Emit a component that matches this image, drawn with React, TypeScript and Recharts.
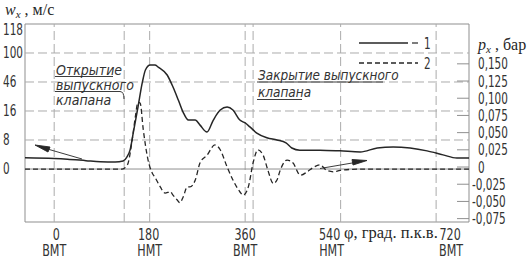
import React from 'react';
import { ComposedChart, Line, XAxis, YAxis, ReferenceLine, ReferenceArea } from 'recharts';

// ---- data ----
const W_TICKS = [0, 8, 16, 46, 100, 118];
const P_TICKS = [0.15, 0.125, 0.1, 0.075, 0.05, 0.025, 0, -0.025, -0.05, -0.075];
const X_TICKS = [0, 180, 360, 540, 720];
const X_TICK_NAMES = ['ВМТ', 'НМТ', 'ВМТ', 'НМТ', 'ВМТ'];
const VALVE_EVENTS = [132, 375];

const SOLID_DEG = [-55, 0, 25, 60, 87, 115, 130, 137, 143, 149, 158, 166, 172, 181, 190, 196, 213, 224, 234, 243, 253, 266, 275, 288, 300, 313, 326, 337, 350, 360, 369, 382, 401, 420, 437, 448, 463, 501, 539, 577, 609, 639, 671, 703, 733, 759, 782];
const SOLID_W = [3.1, 2.9, 2.7, 2.3, 2.0, 1.9, 2.2, 3.3, 5.2, 9.9, 20.1, 45, 68.4, 77.7, 77.7, 73.9, 59, 40.8, 27.4, 15.7, 13.5, 13.5, 12.1, 10.2, 13.5, 17.0, 20.1, 17.0, 13.5, 12.7, 11.6, 9.9, 8.6, 8.0, 7.2, 5.8, 5.2, 5.2, 5.0, 4.7, 5.8, 6.1, 5.8, 5.0, 3.9, 3.0, 3.0];

const DASH_DEG = [-55, 0, 87, 128, 138, 147, 153, 158, 162, 168, 177, 185, 190, 200, 209, 219, 224, 232, 237, 243, 251, 256, 266, 275, 288, 303, 313, 326, 337, 350, 356, 366, 375, 384, 394, 403, 413, 420, 426, 439, 450, 464, 477, 488, 501, 514, 526, 539, 580, 650, 720, 782];
const DASH_P = [0, 0, 0, 0, 0.006, 0.042, 0.076, 0.097, 0.096, 0.057, 0.013, -0.006, -0.012, -0.026, -0.035, -0.033, -0.038, -0.045, -0.049, -0.041, -0.026, -0.026, -0.016, 0.009, 0.020, 0.035, 0.028, 0.003, -0.016, -0.033, -0.038, -0.026, 0.009, 0.028, 0.020, -0.002, -0.021, -0.016, -0.002, 0.013, 0.009, -0.009, -0.004, 0.002, 0.006, -0.002, -0.004, -0.002, 0, 0, 0, 0];

// ---- left axis: non-uniform w scale drawn on an index axis ----
const W_AXIS_POS = [0, 1, 2, 3, 4, 4.8];
function wToAxis(w: number): number {
  for (let i = 1; i < W_TICKS.length; i++) {
    if (w <= W_TICKS[i]) {
      const t = (w - W_TICKS[i - 1]) / (W_TICKS[i] - W_TICKS[i - 1]);
      return W_AXIS_POS[i - 1] + t * (W_AXIS_POS[i] - W_AXIS_POS[i - 1]);
    }
  }
  return W_AXIS_POS[W_AXIS_POS.length - 1];
}

const solidData = SOLID_DEG.map((d, i) => ({ deg: d, w: wToAxis(SOLID_W[i]) }));
const dashData = DASH_DEG.map((d, i) => ({ deg: d, p: DASH_P[i] }));

const X_DOMAIN: [number, number] = [-55, 782];
const W_DOMAIN: [number, number] = [-1.828, 5.0];
const P_DOMAIN: [number, number] = [-0.077, 0.2108];

const GOST = "'Liberation Sans Narrow', 'DejaVu Sans Condensed', 'Open Sans', sans-serif";
const SERIF = "'Liberation Serif', 'DejaVu Serif', serif";
const INK = '#262626';
const TXT = '#333';
const GRID = '#ababab';
const FRAME = '#8f8f8f';

const Narrow = ({ x, y, anchor = 'start', size = 15.5, sq = 0.75, italic = false, children }: any) => (
  <text
    transform={`translate(${x},${y}) scale(${sq},1)`}
    textAnchor={anchor}
    fontFamily={GOST}
    fontSize={size}
    fontWeight={300}
    fontStyle={italic ? 'italic' : 'normal'}
    fill={TXT}
  >
    {children}
  </text>
);

const LeftTick = (props: any) => {
  const { y, payload } = props;
  const idx = W_AXIS_POS.indexOf(payload.value);
  return <Narrow x={3} y={y + 5.5}>{W_TICKS[idx]}</Narrow>;
};

const RightTick = (props: any) => {
  const { x, y, payload } = props;
  const v = payload.value as number;
  const label = (v < 0 ? '-' : '') + (v === 0 ? '0' : Math.abs(v).toFixed(3).replace('.', ','));
  return (
    <g>
      <line x1={x - 12} x2={x} y1={y - 2} y2={y - 2} stroke={FRAME} strokeWidth={1} />
      <Narrow x={v < 0 ? x + 3 : x + 9} y={y + 3.5}>{label}</Narrow>
    </g>
  );
};

const NUM_SHIFT = [2, -1, 0, -11, 14];
const NAME_SHIFT = [0, 0, 0, -9, 15];
const XTick = (props: any) => {
  const { x, y, payload } = props;
  const i = X_TICKS.indexOf(payload.value);
  return (
    <g>
      <Narrow x={x + NUM_SHIFT[i]} y={y + 17.5} anchor="middle" size={15.5} sq={0.8}>{payload.value}</Narrow>
      <Narrow x={x + NAME_SHIFT[i]} y={y + 34} anchor="middle" size={15.5} sq={0.8}>{X_TICK_NAMES[i]}</Narrow>
    </g>
  );
};

const Overlay = () => (
  <svg width={530} height={260} style={{ position: 'absolute', left: 0, top: 0, pointerEvents: 'none' }}>
    {/* axis titles */}
    <text x={5} y={15} fontFamily={SERIF} fontSize={16} fill={INK}>
      <tspan fontStyle="italic">w</tspan>
      <tspan fontStyle="italic" fontSize={11} dy={3}>x</tspan>
      <tspan dy={-3}> , м/с</tspan>
    </text>
    <text x={478} y={50} fontFamily={SERIF} fontSize={16} fill={INK}>
      <tspan fontStyle="italic">p</tspan>
      <tspan fontStyle="italic" fontSize={11} dy={3}>x</tspan>
      <tspan dy={-3}> , бар</tspan>
    </text>
    <text x={344} y={238} fontFamily={SERIF} fontSize={16.5} fill={INK}>φ, град. п.к.в.</text>

    {/* legend */}
    <line x1={359} x2={408} y1={43} y2={43} stroke={INK} strokeWidth={1.4} />
    <line x1={412} x2={418} y1={43} y2={43} stroke={INK} strokeWidth={1.2} />
    <Narrow x={424} y={48.5}>1</Narrow>
    <line x1={359} x2={418} y1={63} y2={63} stroke={INK} strokeWidth={1.3} strokeDasharray="5 3" />
    <Narrow x={424} y={68.5}>2</Narrow>

    {/* annotations */}
    <Narrow x={56} y={74.5} size={14} sq={1} italic>Открытие</Narrow>
    <Narrow x={56} y={89.5} size={14} sq={1} italic>выпускного</Narrow>
    <Narrow x={56} y={105} size={14} sq={1} italic>клапана</Narrow>
    <Narrow x={258} y={79.5} size={14} sq={0.96} italic>Закрытие выпускного</Narrow>
    <Narrow x={258} y={96.5} size={14} sq={0.96} italic>клапана</Narrow>
    <g stroke={INK} strokeWidth={0.9} fill="none">
      <line x1={55} x2={113} y1={76.5} y2={76.5} />
      <path d="M55,91.5 H120 Q124,91.5 124,99" />
      <line x1={257} x2={383} y1={82} y2={82} />
      <line x1={257} x2={302} y1={99.5} y2={99.5} />
    </g>

    {/* arrows */}
    <g stroke={INK} strokeWidth={0.9}>
      <line x1={82} y1={159} x2={44} y2={148} />
      <polygon points="35,145 50,147 48,152" fill={INK} />
      <line x1={320} y1={168.5} x2={358} y2={162} />
      <polygon points="367,160.5 352,159.5 353,165" fill={INK} />
    </g>
  </svg>
);

export default function App() {
  return (
    <div style={{ position: 'absolute', left: 0, top: 0, width: 530, height: 260, background: '#fff' }}>
      <ComposedChart width={530} height={260} margin={{ top: 24, right: 0, bottom: 0, left: 0 }}>
        <XAxis
          type="number"
          dataKey="deg"
          domain={X_DOMAIN}
          allowDataOverflow
          ticks={X_TICKS}
          interval={0}
          height={38}
          tickSize={0}
          tickMargin={0}
          tickLine={false}
          axisLine={false}
          tick={<XTick />}
        />
        <YAxis
          yAxisId="w"
          orientation="left"
          type="number"
          domain={W_DOMAIN}
          allowDataOverflow
          ticks={W_AXIS_POS}
          interval={0}
          width={25}
          tickSize={0}
          tickMargin={0}
          tickLine={false}
          axisLine={false}
          tick={<LeftTick />}
        />
        <YAxis
          yAxisId="p"
          orientation="right"
          type="number"
          domain={P_DOMAIN}
          allowDataOverflow
          ticks={P_TICKS}
          interval={0}
          width={61}
          tickSize={0}
          tickMargin={0}
          tickLine={false}
          axisLine={false}
          tick={<RightTick />}
        />
        {W_AXIS_POS.slice(1, 5).map((v) => (
          <ReferenceLine key={'h' + v} yAxisId="w" y={v} stroke={GRID} strokeDasharray="9 4" strokeWidth={1} />
        ))}
        {[...X_TICKS, ...VALVE_EVENTS].map((v) => (
          <ReferenceLine key={'v' + v} yAxisId="p" x={v} stroke={GRID} strokeDasharray="9 4" strokeWidth={1} />
        ))}
        <ReferenceLine yAxisId="p" y={0} stroke={FRAME} strokeWidth={1} />
        <ReferenceArea
          yAxisId="p"
          x1={X_DOMAIN[0]}
          x2={X_DOMAIN[1]}
          y1={P_DOMAIN[0]}
          y2={P_DOMAIN[1]}
          fill="none"
          fillOpacity={0}
          stroke={FRAME}
          strokeWidth={1}
        />
        <Line
          yAxisId="w"
          data={solidData}
          dataKey="w"
          type="monotone"
          stroke={INK}
          strokeWidth={1.5}
          dot={false}
          isAnimationActive={false}
        />
        <Line
          yAxisId="p"
          data={dashData}
          dataKey="p"
          type="monotone"
          stroke={INK}
          strokeWidth={1.3}
          strokeDasharray="5 3"
          dot={false}
          isAnimationActive={false}
        />
      </ComposedChart>
      <Overlay />
    </div>
  );
}
